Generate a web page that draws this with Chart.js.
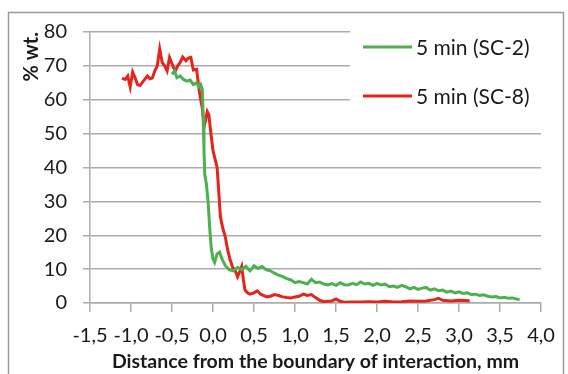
<!DOCTYPE html>
<html>
<head>
<meta charset="utf-8">
<script src="https://cdn.jsdelivr.net/npm/chart.js@4.4.0/dist/chart.umd.min.js"></script>
<style>
html,body{margin:0;padding:0;background:#fff;}
#wrap{width:568px;height:374px;position:relative;}
</style>
</head>
<body>
<div id="wrap"><canvas id="c" width="568" height="374"></canvas></div>
<script>
// Series labels
const seriesLabels = ['5 min (SC-2)', '5 min (SC-8)'];
// SC-2 (green): distance, mm
const sc2X = [-0.50,-0.47,-0.44,-0.40,-0.36,-0.32,-0.28,-0.24,-0.20,-0.17,-0.15,-0.13,-0.12,-0.11,-0.10,-0.08,-0.06,-0.04,-0.02,0.00,0.02,0.05,0.08,0.11,0.15,0.20,0.25,0.30,0.35,0.40,0.45,0.50,0.55,0.60,0.65,0.70,0.75,0.80,0.85,0.90,0.95,1.00,1.05,1.10,1.15,1.20,1.25,1.30,1.35,1.40,1.45,1.50,1.55,1.60,1.65,1.70,1.75,1.80,1.85,1.90,1.95,2.00,2.05,2.10,2.15,2.20,2.25,2.30,2.35,2.40,2.45,2.50,2.55,2.60,2.65,2.70,2.75,2.80,2.85,2.90,2.95,3.00,3.05,3.10,3.15,3.20,3.25,3.30,3.35,3.40,3.45,3.50,3.55,3.60,3.65,3.70,3.74];
// SC-2 (green): % wt.
const sc2Y = [67.5,68.5,66.5,67,66,65.5,65.8,64.5,65,63.8,64.5,63,55,45,38,35,30,22,16,13,12,14.5,15,13,11,9.8,9.5,10.5,9.8,10.8,9.5,11,10.2,10.8,9.8,9.5,8.8,8.2,7.8,7.2,6.8,6.0,6.3,6.0,5.6,7.0,6.0,6.2,5.6,5.3,5.7,5.2,6.0,5.4,5.3,5.8,5.4,6.2,5.6,5.8,5.2,5.8,5.3,5.6,4.8,5.0,4.6,5.2,4.8,4.2,4.6,4.0,4.4,4.6,3.8,4.2,3.6,3.8,3.2,3.5,3.0,3.3,2.8,3.0,2.5,2.6,2.2,2.4,2.0,1.8,1.9,1.5,1.7,1.4,1.5,1.2,1.0];
// SC-8 (red): distance, mm
const sc8X = [-1.11,-1.07,-1.04,-1.01,-0.98,-0.95,-0.92,-0.89,-0.85,-0.80,-0.77,-0.74,-0.71,-0.68,-0.65,-0.62,-0.59,-0.56,-0.53,-0.49,-0.46,-0.43,-0.40,-0.37,-0.33,-0.30,-0.27,-0.24,-0.20,-0.17,-0.15,-0.13,-0.11,-0.09,-0.07,-0.05,-0.03,0.00,0.03,0.05,0.07,0.09,0.12,0.15,0.18,0.21,0.24,0.27,0.30,0.33,0.35,0.37,0.39,0.42,0.45,0.50,0.54,0.58,0.62,0.66,0.70,0.75,0.80,0.85,0.90,0.95,1.00,1.05,1.10,1.15,1.20,1.25,1.30,1.35,1.40,1.45,1.50,1.55,1.60,1.70,1.80,1.90,2.00,2.10,2.20,2.30,2.40,2.50,2.60,2.70,2.75,2.80,2.90,3.00,3.13];
// SC-8 (red): % wt.
const sc8Y = [66.3,66.0,67,63.8,68.2,66.5,64.5,64.2,65.5,67,66.2,66.4,68.5,70,75,71,70,68.5,72.5,70,68.5,70,71,72.6,71.5,72.3,72.5,68.8,69,63,60,57.5,52,54,56.5,55.5,51,45,42,40,33,25.5,22,19.5,15.5,12.7,10.5,9.7,7.7,9.5,10.8,7,3.8,3.0,2.6,3.0,3.6,2.6,2.2,1.8,2.0,2.5,2.2,1.8,1.6,1.5,1.8,2.0,2.6,2.2,2.5,1.6,0.8,0.4,0.5,0.6,1.2,0.5,0.2,0.3,0.3,0.4,0.3,0.5,0.3,0.4,0.6,0.5,0.6,1.0,1.4,0.8,0.6,0.8,0.7];
// Axis ticks
const xMin = -1.5, xMax = 4.0, xStep = 0.5;
const yMin = 0, yMax = 80, yStep = 10;
const xTitle = 'Distance from the boundary of interaction, mm';
const yTitle = '% wt.';

const colors = ['#4DB04F', '#E5241C'];
const toPts = (xs, ys) => xs.map((x, i) => ({x: x, y: ys[i]}));
const GRID = '#ababab';

const framePlugin = {
  id: 'frame',
  beforeDraw(chart) {
    const ctx = chart.ctx;
    ctx.save();
    ctx.fillStyle = '#fff';
    ctx.fillRect(0, 0, chart.width, chart.height);
    ctx.strokeStyle = '#9a9a9a';
    ctx.lineWidth = 1.5;
    ctx.strokeRect(8.5, 12.5, 555, 380);
    ctx.restore();
  }
};

const legendPlugin = {
  id: 'customLegend',
  afterDraw(chart) {
    const ctx = chart.ctx;
    ctx.save();
    ctx.fillStyle = '#fff';
    ctx.fillRect(350, 28, 196, 88);
    const rows = [47, 96];
    chart.data.datasets.forEach((ds, i) => {
      const y = rows[i];
      ctx.strokeStyle = ds.borderColor;
      ctx.lineWidth = 3;
      ctx.beginPath();
      ctx.moveTo(363, y);
      ctx.lineTo(412, y);
      ctx.stroke();
      ctx.fillStyle = '#1a1a1a';
      ctx.font = '21px Lato';
      ctx.textBaseline = 'middle';
      ctx.textAlign = 'left';
      ctx.fillText(ds.label, 416, y + 1);
    });
    ctx.restore();
  }
};

new Chart(document.getElementById('c'), {
  type: 'scatter',
  data: {
    datasets: [
      {label: seriesLabels[0], data: toPts(sc2X, sc2Y), borderColor: colors[0], backgroundColor: colors[0], showLine: true, pointRadius: 0, borderWidth: 3, tension: 0},
      {label: seriesLabels[1], data: toPts(sc8X, sc8Y), borderColor: colors[1], backgroundColor: colors[1], showLine: true, pointRadius: 0, borderWidth: 3, tension: 0}
    ]
  },
  options: {
    responsive: false,
    animation: false,
    devicePixelRatio: 1,
    layout: {padding: {left: 0, right: 27, top: 32, bottom: 0}},
    plugins: {legend: {display: false}, tooltip: {enabled: false}},
    scales: {
      x: {
        type: 'linear', min: xMin, max: xMax,
        afterFit(s) { s.height = 71; },
        ticks: {stepSize: xStep, color: '#1a1a1a', font: {family: 'Lato', size: 20}, padding: 12, maxRotation: 0, autoSkip: false,
          callback: v => (Math.round(v * 10) / 10).toFixed(1).replace('.', ',')},
        grid: {drawOnChartArea: false, drawTicks: true, tickLength: 9, color: GRID, lineWidth: 1.5},
        border: {display: true, color: GRID, width: 1.5},
        title: {display: true, text: xTitle, color: '#1a1a1a', font: {family: 'Lato', size: 19.5, weight: 'bold'}, padding: {top: 0, bottom: 1}}
      },
      y: {
        min: yMin, max: yMax,
        afterFit(s) { s.width = 90; },
        ticks: {stepSize: yStep, color: '#1a1a1a', font: {family: 'Lato', size: 20}, padding: 16},
        grid: {drawOnChartArea: true, drawTicks: true, tickLength: 7, color: GRID, lineWidth: 1.5},
        border: {display: true, color: GRID, width: 1.5},
        title: {display: true, text: yTitle, align: 'end', color: '#1a1a1a', font: {family: 'Lato', size: 20, weight: 'bold'}, padding: {top: 20, bottom: 0}}
      }
    }
  },
  plugins: [framePlugin, legendPlugin]
});
</script>
</body>
</html>
